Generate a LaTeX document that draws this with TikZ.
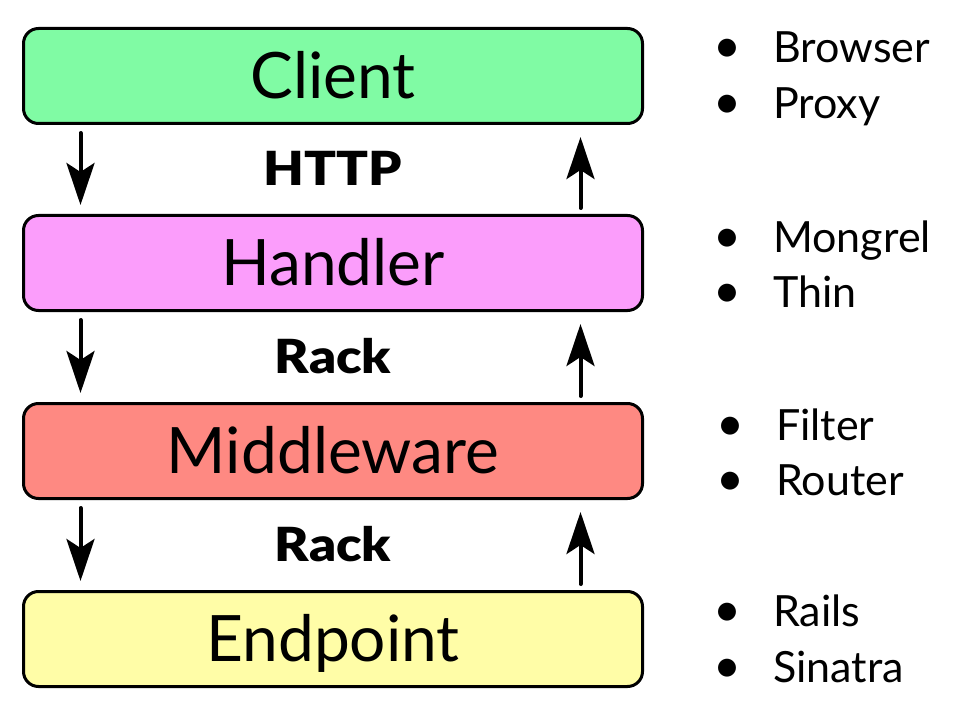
\documentclass[tikz,border=0pt]{standalone}
\usepackage{fontspec}
\setmainfont{Lato}
\IfFontExistsTF{Lato Black}{\newfontfamily\heavyfont{Lato Black}}{\newfontfamily\heavyfont{Lato}[UprightFont=*-Bold]}
\usetikzlibrary{arrows.meta,calc}
\definecolor{cgreen}{RGB}{128,251,164}
\definecolor{cpink}{RGB}{251,157,251}
\definecolor{cred}{RGB}{254,137,130}
\definecolor{cyellow}{RGB}{255,253,167}
\newcommand{\blt}{\llap{\scalebox{1.12}{•}\hskip 32pt}}
\begin{document}
\begin{tikzpicture}[x=1pt,y=-1pt,
  box/.style={draw=black, line width=3pt, rounded corners=15pt,
    minimum width=619pt, minimum height=95pt, inner sep=0pt,
    text height=45pt, text depth=0pt, font=\fontsize{64}{70}\selectfont},
  proto/.style={inner sep=0pt, text height=34pt, text depth=0pt,
    font=\fontsize{47}{52}\heavyfont},
  item/.style={anchor=base west, inner sep=0pt, font=\fontsize{43}{50}\selectfont},
  arrdown/.style={line width=4pt, line cap=round,
    -{Stealth[length=42pt,width=28pt,inset=9pt]}, shorten <=8pt, shorten >=9pt},
  arrup/.style={line width=4pt, line cap=round,
    -{Stealth[length=42pt,width=28pt,inset=9pt]}, shorten <=6pt, shorten >=12pt}]
\useasboundingbox (0,0) rectangle (956,714);

\node[box, fill=cgreen]  (client) at (333,76)  {Client};
\node[box, fill=cpink]   (handler) at (333,263) {Handler};
\node[box, fill=cred]    (middle) at (333,451) {Middleware};
\node[box, fill=cyellow] (endp) at (333,639) {Endpoint};

\foreach \a/\b/\t [count=\i] in {client/handler/HTTP, handler/middle/Rack, middle/endp/Rack}{
  \draw[arrdown] ([xshift=58.5pt]\a.south west) -- ([xshift=58.5pt]\b.north west);
  \draw[arrup] ([xshift=-63.5pt]\b.north east) -- ([xshift=-63.5pt]\a.south east);
  \node[proto, xscale=1.12] (lab\i) at ($(\a.south)!0.5!(\b.north)+(0,-1)$) {\t};
}

\node[item] (b1) at (773,63)  {\blt Browser};
\node[item] (b2) at (773,119) {\blt Proxy};
\node[item] (b3) at (773,252) {\blt Mongrel};
\node[item] (b4) at (773,307) {\blt Thin};
\node[item] (b5) at (776,440) {\blt Filter};
\node[item] (b6) at (776,495) {\blt Router};
\node[item] (b7) at (773,626) {\blt Rails};
\node[item] (b8) at (773,682) {\blt Sinatra};
\end{tikzpicture}
\end{document}
